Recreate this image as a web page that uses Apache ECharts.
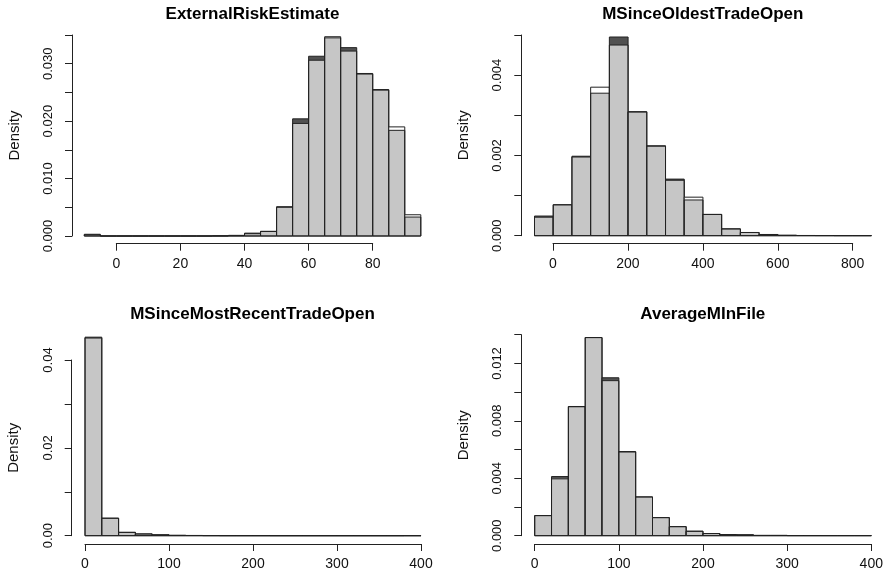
<!DOCTYPE html>
<html>
<head>
<meta charset="utf-8">
<script src="https://cdn.jsdelivr.net/npm/echarts@6/dist/echarts.min.js"></script>
<style>
html,body{margin:0;padding:0;background:#fff;}
#main{width:888px;height:578px;}
</style>
</head>
<body>
<div id="main"></div>
<script>
// bin breaks + densities for the two overlaid groups (dark / light)
var erBreaks = [-10,-5,0,5,10,15,20,25,30,35,40,45,50,55,60,65,70,75,80,85,90,95];
var erDark  = [0.0003,0,0,0,0,0,0,0,0.00003,0.0001,0.0005,0.0008,0.0051,0.0204,0.0313,0.0345,0.0328,0.0283,0.0255,0.0184,0.0033];
var erLight = [0.0002,0,0,0,0,0,0,0,0.00002,0.0001,0.0004,0.0008,0.0050,0.0196,0.0306,0.0347,0.0322,0.0282,0.0254,0.0190,0.0037];

var otBreaks = [-50,0,50,100,150,200,250,300,350,400,450,500,550,600,650,700,750,800,850];
var otDark  = [0.00049,0.00077,0.00198,0.00355,0.00495,0.00309,0.00224,0.00141,0.00089,0.00053,0.00017,0.00008,0.00003,0.00001,0.000005,0.000004,0.000003,0.000003];
var otLight = [0.00046,0.00077,0.00196,0.00370,0.00475,0.00308,0.00223,0.00138,0.00096,0.00053,0.00017,0.00008,0.00003,0.00001,0.000005,0.000004,0.000003,0.000003];

var rtBreaks = [0,20,40,60,80,100,120,140,160,180,200,220,240,260,280,300,320,340,360,380,400];
var rtDark  = [0.0452,0.00396,0.00077,0.0004,0.0002,0.00008,0.00005,0.00003,0.00002,0.00002,0.00002,0.00001,0.00001,0.00001,0.00001,0.00001,0.00001,0.00001,0.00001,0.00002];
var rtLight = [0.0450,0.00400,0.00075,0.0004,0.0002,0.00008,0.00005,0.00003,0.00002,0.00002,0.00002,0.00001,0.00001,0.00001,0.00001,0.00001,0.00001,0.00001,0.00001,0.00002];

var amBreaks = [0,20,40,60,80,100,120,140,160,180,200,220,240,260,280,300,320,340,360,380,400];
var amDark  = [0.00140,0.00412,0.00900,0.0138,0.0110,0.00586,0.00270,0.00126,0.00063,0.00031,0.00015,0.00008,0.00006,0.00002,0.00002,0.00001,0.00001,0.00001,0.00001,0.00001];
var amLight = [0.00140,0.00396,0.00898,0.0138,0.0108,0.00583,0.00270,0.00126,0.00063,0.00031,0.00015,0.00008,0.00006,0.00002,0.00002,0.00001,0.00001,0.00001,0.00001,0.00001];

var titles = ['ExternalRiskEstimate','MSinceOldestTradeOpen','MSinceMostRecentTradeOpen','AverageMInFile'];
var xTicks = [[0,80,20],[0,800,200],[0,400,100],[0,400,100]];          // min,max,step
var yTicks = [[0.035,0.005,0.01,3],[0.005,0.001,0.002,3],[0.04,0.01,0.02,2],[0.014,0.002,0.004,3]]; // max,tick,label,decimals

// panel layout in px
var layout = [
  {px0:84.3, px1:420.8, top:35,    base:236,   yAxisX:72,   axisY:243.7, ax0:116.3, ax1:372.7, tx:252.5, ty:14},
  {px0:534.5,px1:871.4, top:35,    base:235.7, yAxisX:521.3,axisY:243.7, ax0:553,   ax1:852.7, tx:702.8, ty:14},
  {px0:85,   px1:421,   top:360,   base:535.7, yAxisX:71.7, axisY:544,   ax0:85,    ax1:421,   tx:252.5, ty:314},
  {px0:534.7,px1:871.3, top:334.7, base:535.7, yAxisX:521.3,axisY:544,   ax0:534.7, ax1:871.3, tx:702.8, ty:314}
];

var histData = [[erBreaks,erDark,erLight],[otBreaks,otDark,otLight],[rtBreaks,rtDark,rtLight],[amBreaks,amDark,amLight]];

var font = "'Liberation Sans', Arial, sans-serif";
var axisCol = '#222';
var darkFill = '#515151';
var grayFill = '#c6c6c6';

function renderHist(params, api){
  var x0 = api.value(0), x1 = api.value(1), a = api.value(2), b = api.value(3);
  var lo = Math.min(a, b);
  function box(h){
    var p0 = api.coord([x0, h]);
    var p1 = api.coord([x1, 0]);
    return {x:p0[0], y:p0[1], width:p1[0]-p0[0], height:p1[1]-p0[1]};
  }
  return {type:'group', children:[
    {type:'rect', shape:box(a), style:{fill:darkFill}},
    {type:'rect', shape:box(b), style:{fill:'#fff'}},
    {type:'rect', shape:box(lo), style:{fill:grayFill}},
    {type:'rect', shape:box(a), style:{fill:'none', stroke:axisCol, lineWidth:1}},
    {type:'rect', shape:box(b), style:{fill:'none', stroke:axisCol, lineWidth:1}}
  ]};
}

var grids = [], xAxes = [], yAxes = [], series = [], graphics = [];

for (var i = 0; i < 4; i++) {
  var L = layout[i], br = histData[i][0], dk = histData[i][1], lt = histData[i][2];
  var yt = yTicks[i];
  // bar grid
  grids.push({left:L.px0, top:L.top, width:L.px1-L.px0, height:L.base-L.top});
  // x axis grid
  grids.push({left:L.ax0, top:L.axisY-20, width:L.ax1-L.ax0, height:20});

  xAxes.push({gridIndex:2*i, type:'value', min:br[0], max:br[br.length-1], show:false});
  xAxes.push({gridIndex:2*i+1, type:'value', min:xTicks[i][0], max:xTicks[i][1], interval:xTicks[i][2],
    axisLine:{onZero:false, lineStyle:{color:axisCol, width:1}},
    axisTick:{length:7, lineStyle:{color:axisCol}},
    axisLabel:{margin:13, fontSize:14, fontFamily:font, color:'#111'},
    splitLine:{show:false}});

  (function(yt){
    yAxes.push({gridIndex:2*i, type:'value', min:0, max:yt[0], interval:yt[1],
      offset:L.px0-L.yAxisX,
      name:'Density', nameLocation:'middle', nameGap:50, nameRotate:90,
      nameTextStyle:{fontSize:15, fontFamily:font, color:'#111'},
      axisLine:{show:true, onZero:false, lineStyle:{color:axisCol, width:1}},
      axisTick:{show:true, length:7, lineStyle:{color:axisCol}},
      axisLabel:{rotate:90, margin:17, fontSize:13, fontFamily:font, color:'#111',
        formatter:function(v){
          var k = v / yt[2];
          return Math.abs(k - Math.round(k)) < 1e-6 ? v.toFixed(yt[3]) : '';
        }},
      splitLine:{show:false}});
  })(yt);
  yAxes.push({gridIndex:2*i+1, type:'value', show:false});

  var rows = [];
  for (var j = 0; j < dk.length; j++) rows.push([br[j], br[j+1], dk[j], lt[j]]);
  series.push({type:'custom', xAxisIndex:2*i, yAxisIndex:2*i, renderItem:renderHist,
    encode:{x:[0,1], y:[2,3]}, data:rows, clip:false, silent:true});

  graphics.push({type:'text', x:L.tx, y:L.ty, style:{text:titles[i], fontSize:17, fontWeight:'bold',
    fontFamily:font, fill:'#000', textAlign:'center', textVerticalAlign:'middle'}});
}

var myChart = echarts.init(document.getElementById('main'));
option = {
  backgroundColor:'#fff',
  animation:false,
  grid:grids,
  xAxis:xAxes,
  yAxis:yAxes,
  series:series,
  graphic:graphics
};
myChart.setOption(option);
</script>
</body>
</html>
